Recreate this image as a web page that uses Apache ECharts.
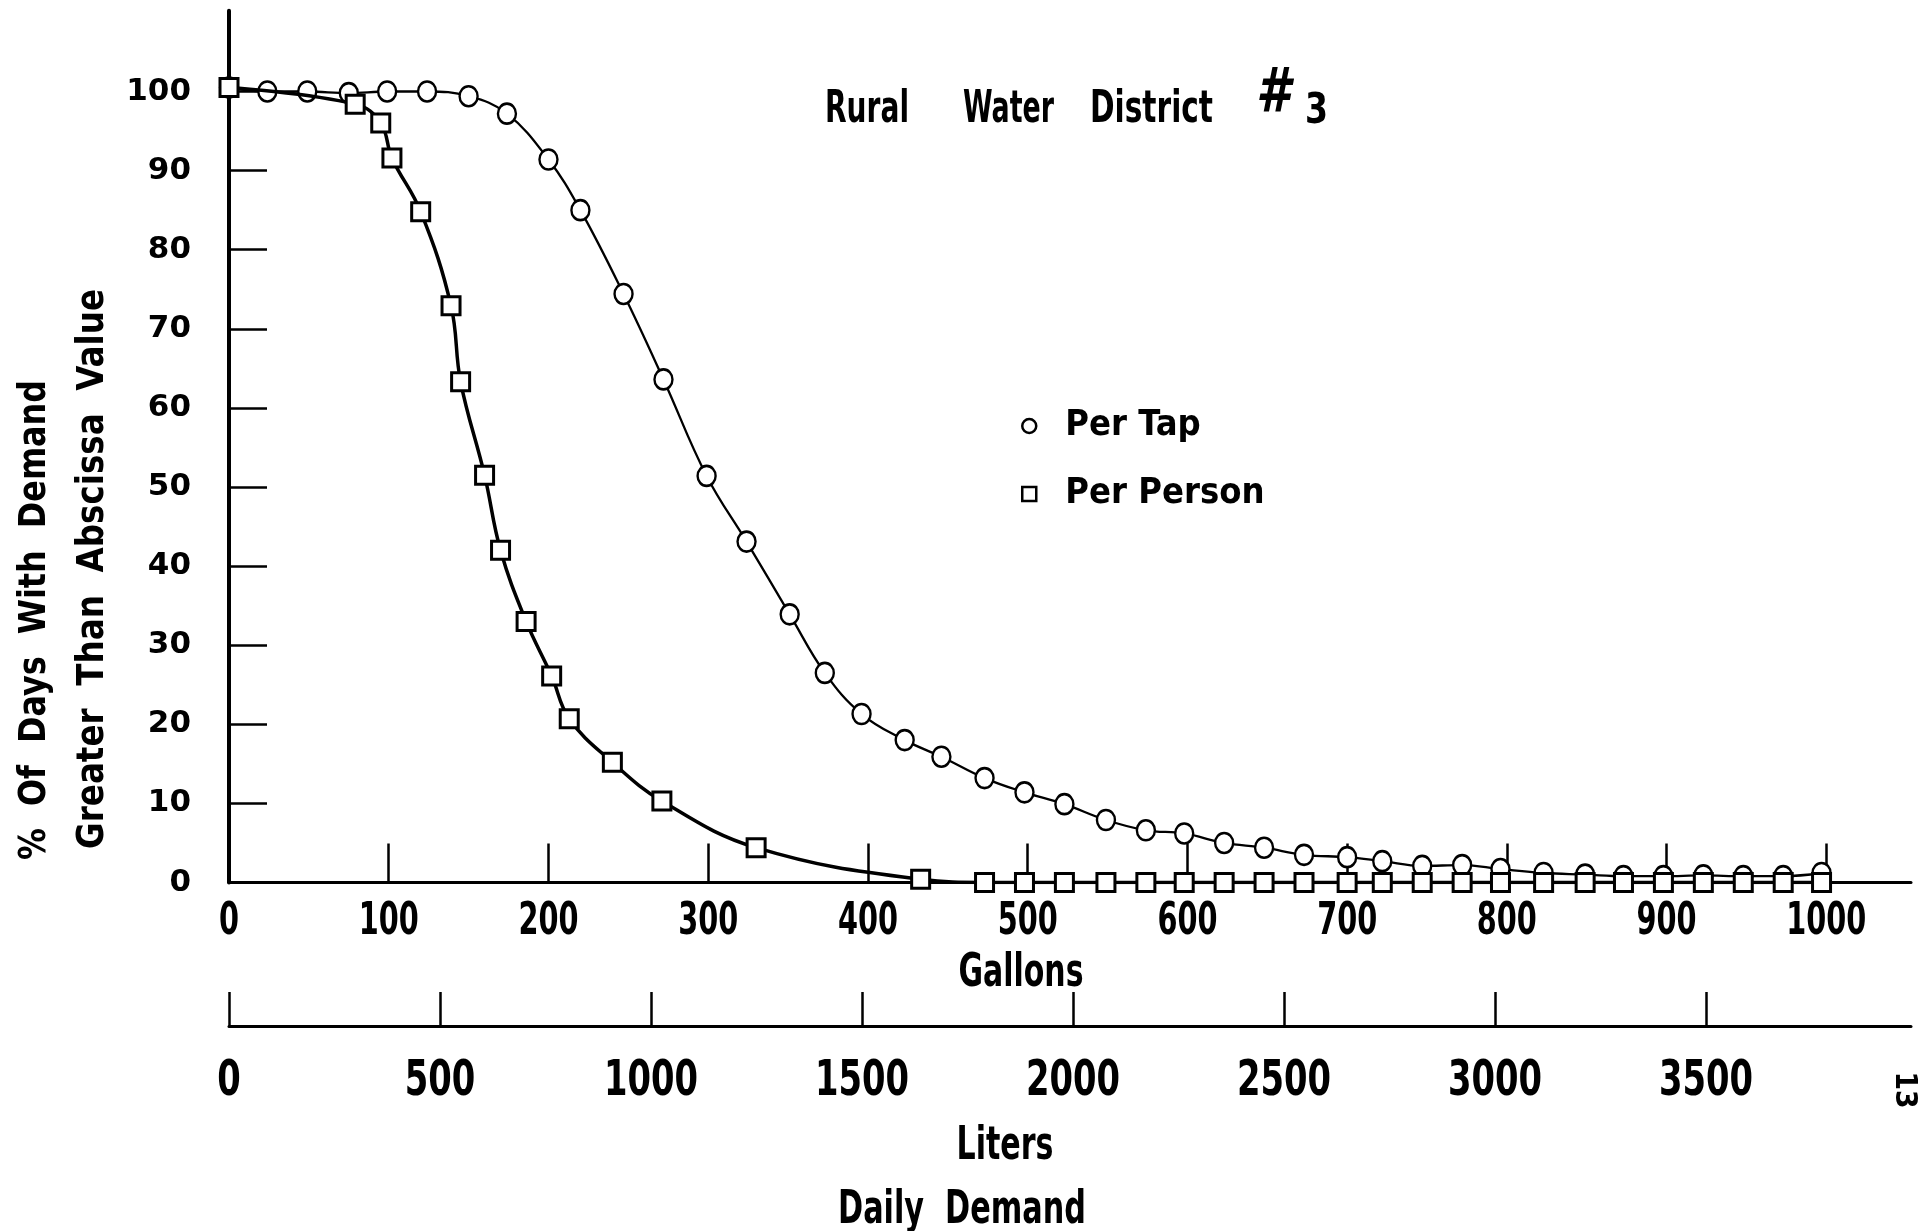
<!DOCTYPE html>
<html>
<head>
<meta charset="utf-8">
<script src="https://cdn.jsdelivr.net/npm/echarts@6/dist/echarts.min.js"></script>
<style>
html,body{margin:0;padding:0;background:#fff;}
#chart{width:1931px;height:1231px;}
</style>
</head>
<body>
<div id="chart"></div>
<script>
// ---- data ----
const perTapGallons = [0,24,49,75,99,124,150,174,200,220,247,272,299,324,351,373,396,423,446,473,498,523,549,574,598,623,648,673,700,722,747,772,796,823,849,873,898,923,948,973,997];
const perTapPct     = [100.5,100,100,99.8,100,100,99.4,97.2,91.4,85,74.4,63.6,51.4,43.1,33.9,26.5,21.3,18,15.9,13.2,11.4,9.9,7.9,6.6,6.2,5,4.4,3.5,3.2,2.7,2.1,2.2,1.7,1.2,1,0.8,0.8,0.9,0.8,0.8,1.2];
const perPersonGallons = [0,79,95,102,120,139,145,160,170,186,202,213,240,271,330,433,473,498,523,549,574,598,623,648,673,700,722,747,772,796,823,849,873,898,923,948,973,997];
const perPersonPct     = [100.5,98.4,96,91.6,84.8,72.9,63.3,51.5,42,33,26.1,20.7,15.2,10.3,4.4,0.4,0,0,0,0,0,0,0,0,0,0,0,0,0,0,0,0,0,0,0,0,0,0];
const yTicks = [0,10,20,30,40,50,60,70,80,90,100];
const gallonTicks = [0,100,200,300,400,500,600,700,800,900,1000];
const literTicks = [0,500,1000,1500,2000,2500,3000,3500];
const seriesNames = ['Per Tap','Per Person'];
const GAL_MAX = 1053;
const LITERS_PER_GALLON = 3.785;

const NARROW = "'Liberation Sans Narrow','DejaVu Sans Condensed','DejaVu Sans',sans-serif";
const zip = (a,b) => a.map((v,i)=>[v,b[i]]);

const mctx = document.createElement('canvas').getContext('2d');
function measure(text, font){ mctx.font = font; return mctx.measureText(text).width; }
// text squeezed/stretched horizontally to a target width (condensed lettering)
function fitText(text, x, y, px, targetW, opts){
  opts = opts || {};
  const font = (opts.style || 'bold') + ' ' + px + 'px ' + NARROW;
  const sx = targetW / measure(text, font);
  return {type:'text', x:x, y:y, rotation:opts.rotation||0, scaleX:sx, z:10,
    style:{text:text, font:font, fill:'#000', align:opts.align||'center', verticalAlign:'middle'}};
}
function scaledText(text, x, y, px, sx, opts){
  opts = opts || {};
  const font = 'bold ' + px + 'px ' + NARROW;
  return {type:'text', x:x, y:y, scaleX:sx, z:10,
    style:{text:text, font:font, fill:'#000', align:opts.align||'center', verticalAlign:'middle'}};
}

const chart = echarts.init(document.getElementById('chart'), null, {renderer:'canvas'});
const option = {
  backgroundColor:'#fff',
  animation:false,
  grid:[
    {left:229, right:20, top:10.8, height:871.7},
    {left:229, right:20, top:1026, height:1}
  ],
  xAxis:[
    {gridIndex:0, type:'value', min:0, max:GAL_MAX, interval:100,
     axisLine:{lineStyle:{color:'#000', width:3}},
     axisTick:{inside:true, length:39, customValues:gallonTicks, lineStyle:{color:'#000', width:2.5}},
     axisLabel:{show:false},
     splitLine:{show:false}},
    {gridIndex:1, type:'value', position:'top', min:0, max:GAL_MAX*LITERS_PER_GALLON, interval:500,
     axisLine:{onZero:false, lineStyle:{color:'#000', width:3}},
     axisTick:{inside:false, length:34, customValues:literTicks, lineStyle:{color:'#000', width:2.5}},
     axisLabel:{show:false},
     splitLine:{show:false}}
  ],
  yAxis:[
    {gridIndex:0, type:'value', min:0, max:110.2, interval:10,
     axisLine:{show:true, lineStyle:{color:'#000', width:4}},
     axisTick:{show:true, inside:true, length:38, customValues:yTicks, lineStyle:{color:'#000', width:2.5}},
     axisLabel:{margin:38, color:'#000', fontFamily:"'DejaVu Sans',sans-serif", fontWeight:'bold', fontSize:31,
       customValues:yTicks},
     splitLine:{show:false}},
    {gridIndex:1, type:'value', show:false, min:0, max:1}
  ],
  legend:{
    orient:'vertical', left:1016, top:400, itemWidth:14, itemHeight:14, itemGap:26,
    data:[{name:seriesNames[0], icon:'circle'},{name:seriesNames[1], icon:'rect'}],
    itemStyle:{color:'#fff', borderColor:'#000', borderWidth:2.5},
    textStyle:{color:'#000', fontFamily:NARROW, fontWeight:'bold', fontSize:36, lineHeight:42, padding:[0,0,0,24]}
  },
  series:[
    {name:seriesNames[0], type:'line', xAxisIndex:0, yAxisIndex:0, data:zip(perTapGallons, perTapPct),
     smooth:0.4, symbol:'circle', symbolSize:[18,20],
     lineStyle:{color:'#000', width:2.3},
     itemStyle:{color:'#fff', borderColor:'#000', borderWidth:2.5}, z:3},
    {name:seriesNames[1], type:'line', xAxisIndex:0, yAxisIndex:0, data:zip(perPersonGallons, perPersonPct),
     smooth:0.4, symbol:'rect', symbolSize:18,
     lineStyle:{color:'#000', width:3.5},
     itemStyle:{color:'#fff', borderColor:'#000', borderWidth:3}, z:4}
  ]
};
chart.setOption(option);

// condensed tick labels placed through the library's own axis scales
const galFont = 'bold 44px ' + NARROW;
const galScale = 60 / measure('200', galFont);
const litFont = 'bold 50px ' + NARROW;
const litScale = 94 / measure('2000', litFont);
const graphics = [];
gallonTicks.forEach(v => {
  const px = chart.convertToPixel({xAxisIndex:0}, v);
  graphics.push(scaledText(String(v), px, 923, 44, galScale));
});
literTicks.forEach(v => {
  const px = chart.convertToPixel({xAxisIndex:1}, v);
  graphics.push(scaledText(String(v), px, 1082, 50, litScale));
});
graphics.push(
  fitText('Rural', 825, 111, 44, 84, {align:'left'}),
  fitText('Water', 963, 111, 44, 91, {align:'left'}),
  fitText('District', 1090, 111, 44, 123, {align:'left'}),
  fitText('#', 1256, 96, 62, 34, {align:'left', style:'italic bold'}),
  fitText('3', 1305, 112, 42, 23, {align:'left'}),
  fitText('%  Of  Days  With  Demand', 35, 620, 37, 480, {rotation:Math.PI/2}),
  fitText('Greater  Than  Abscissa  Value', 93, 569, 37, 560, {rotation:Math.PI/2}),
  fitText('Gallons', 1021, 974, 46, 125),
  fitText('Liters', 1005, 1147, 46, 97),
  fitText('Daily  Demand', 962, 1211, 46, 248),
  fitText('13', 1904, 1090, 30, 37, {rotation:-Math.PI/2})
);
chart.setOption({graphic:graphics});
</script>
</body>
</html>
